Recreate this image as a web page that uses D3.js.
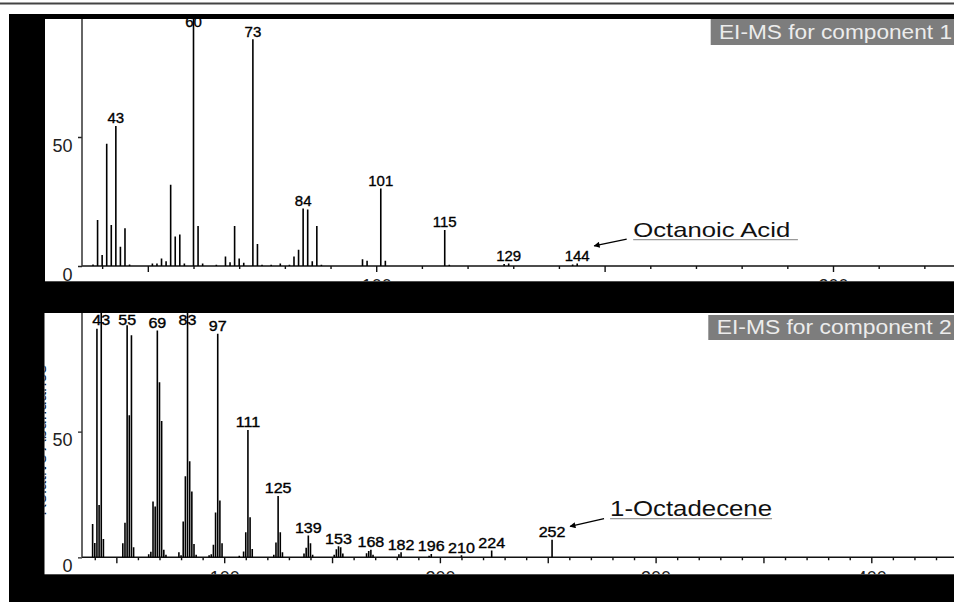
<!DOCTYPE html>
<html><head><meta charset="utf-8">
<script src="https://cdn.jsdelivr.net/npm/d3@7"></script>
<style>html,body{margin:0;padding:0;background:#fff;} svg{display:block;font-family:"Liberation Sans",Arial,sans-serif;}</style>
</head><body>
<svg id="c" width="954" height="602"></svg>
<script>
// ---------- data ----------
const topMz  = [38,39,40,41,42,43,44,45,46,51,52,53,54,55,56,57,58,60,61,62,65,67,68,69,70,71,73,74,75,77,79,81,82,83,84,85,86,87,88,97,98,101,102,115,116,128,129,143,144];
const topInt = [0.6,17.8,4.3,47.4,15.9,54.3,7.5,14.6,0.6,1,1,2.9,1.8,31.5,11.4,12.2,1,100,15.5,1,0.5,3.7,1.5,15.5,2.9,1.3,87.9,8.5,0.5,0.5,1,0.5,3.7,6.3,22.3,21.9,1.8,15.5,0.5,2.6,2,30,2,14,0.5,0.8,1,0.6,1];
const topLabels = [43,60,73,84,101,115,129,144];

const botMz  = [39,40,41,42,43,44,53,54,55,56,57,58,65,66,67,68,69,70,71,72,73,79,80,81,82,83,84,85,86,87,93,94,95,96,97,98,99,107,109,110,111,112,113,123,124,125,126,127,137,138,139,140,141,151,152,153,154,155,166,167,168,169,181,182,195,196,210,224,252];
const botInt = [13.3,5.7,91,20.8,100,7.3,5.6,13.8,92.4,56.5,88.4,4,1.2,2.2,22.2,20.2,90.3,69.7,54.3,3,1,2,0.8,14.3,32.3,99,38.2,26.2,5.3,1,0.8,1.2,5,17.8,89,22.6,5.6,0.6,2.3,10,50.7,15.9,3.3,1,5.9,24.4,10,2,1.5,3.8,8.7,5.6,1,1,3.2,4.4,4,1.5,1.6,2.5,3,1,1.2,2,0.6,1.3,0.8,2.7,7];
const botLabels = [43,55,69,83,97,111,125,139,153,168,182,196,210,224,252];

const yTickValues = [0,50];
const topXTickLabels = [100,200];
const botXTickLabels = [100,200,300,400];
const titles = ["EI-MS for component 1","EI-MS for component 2"];
const compounds = ["Octanoic Acid","1-Octadecene"];
const yTitle = "Relative Abundance";

// ---------- layout ----------
const svg = d3.select("#c");
svg.append("line").attr("x1",0).attr("x2",954).attr("y1",3.5).attr("y2",3.5)
   .attr("stroke","#444").attr("stroke-width",1.8);
svg.append("rect").attr("x",9).attr("y",14).attr("width",945).attr("height",588).attr("fill","#000");

const panels = [
  { mz: topMz, it: topInt, labels: topLabels, xLabels: topXTickLabels, title: titles[0], comp: compounds[0],
    box:{x:45,y:19,w:909,h:262.3}, xd:[60,200], xr:[193.5,833], base:266, yTop:8,
    labFont:15, labScale:1.0, labMin:26.5, tickMax:230,
    titleBox:{x:710.7,y:19,w:243.3,h:26, tx:719, ty:39, tl:233},
    ann:{ref:144, ax:17, ay:-15, sx:49.5, sy:-21.7, tx:56, ty:-24, tl:157, ulx:0, uly:-21.2, ulw:164.7, fs:21},
    showYTitle:false },
  { mz: botMz, it: botInt, labels: botLabels, xLabels: botXTickLabels, title: titles[1], comp: compounds[1],
    box:{x:44.5,y:313,w:909.5,h:261.3}, xd:[100,400], xr:[224.2,871.3], base:557.3, yTop:306.1,
    labFont:14, labScale:1.15, labMin:324.5, tickMax:440,
    titleBox:{x:708.3,y:315,w:245.7,h:25, tx:716.7, ty:333.5, tl:235},
    ann:{ref:252, ax:18, ay:-10.7, sx:52, sy:-18.4, tx:58, ty:-21.4, tl:162, ulx:0, uly:-18.4, ulw:162, fs:22},
    showYTitle:true }
];

const defs = svg.append("defs");
defs.append("marker").attr("id","arr").attr("viewBox","0 0 10 10").attr("refX",9).attr("refY",5)
  .attr("markerWidth",8).attr("markerHeight",6).attr("markerUnits","userSpaceOnUse").attr("orient","auto")
  .append("path").attr("d","M0,0 L10,5 L0,10 z").attr("fill","#000");

panels.forEach((p,i)=>{
  const cid = "clip"+i;
  defs.append("clipPath").attr("id",cid).append("rect")
    .attr("x",p.box.x).attr("y",p.box.y).attr("width",p.box.w).attr("height",p.box.h);
  svg.append("rect").attr("x",p.box.x).attr("y",p.box.y).attr("width",p.box.w).attr("height",p.box.h).attr("fill","#fff");
  const g = svg.append("g").attr("clip-path",`url(#${cid})`);

  const x = d3.scaleLinear().domain(p.xd).range(p.xr);
  const y = d3.scaleLinear().domain([0,100]).range([p.base,p.yTop]);
  const xLeft = 82, xRight = 954;

  // y axis title (almost entirely hidden behind the panel edge)
  if (p.showYTitle) {
    g.append("text").attr("transform",`translate(45.6,${(p.box.y+p.base)/2+5}) rotate(-90)`)
      .attr("text-anchor","middle").attr("font-size",17).attr("fill","#111").text(yTitle);
  }

  // x axis minor & major ticks
  const minor = d3.range(40, p.tickMax, 10).filter(v=>v%50!==0);
  const major = d3.range(50, p.tickMax, 50);
  g.append("g").attr("transform",`translate(0,${p.base})`)
    .call(d3.axisBottom(x).tickValues(minor).tickSize(3).tickFormat(""))
    .call(a=>{a.select(".domain").remove(); a.selectAll("line").attr("stroke","#111").attr("stroke-width",1.4);});
  g.append("g").attr("transform",`translate(0,${p.base})`)
    .call(d3.axisBottom(x).tickValues(major).tickSize(6).tickFormat(""))
    .call(a=>{a.select(".domain").remove(); a.selectAll("line").attr("stroke","#111").attr("stroke-width",1.4);});
  g.append("g").attr("transform",`translate(0,${p.base})`)
    .call(d3.axisBottom(x).tickValues(p.xLabels).tickSize(0).tickPadding(13.5).tickFormat(d3.format("d")))
    .call(a=>{a.select(".domain").remove(); a.selectAll("text").attr("font-size",18).attr("fill","#222")
      .attr("font-family","Liberation Sans, Arial, sans-serif");});

  // y axis
  g.append("g").attr("transform",`translate(${xLeft},0)`)
    .call(d3.axisLeft(y).tickValues(yTickValues).tickSize(4).tickPadding(5.5).tickFormat(d3.format("d")))
    .call(a=>{a.select(".domain").remove();
      a.selectAll("line").attr("stroke","#222").attr("stroke-width",1.3);
      a.selectAll("text").attr("font-size",18).attr("fill","#222").attr("dy","0.78em")
       .attr("font-family","Liberation Sans, Arial, sans-serif");});

  // axis lines
  g.append("line").attr("x1",xLeft).attr("x2",xRight).attr("y1",p.base).attr("y2",p.base)
    .attr("stroke","#111").attr("stroke-width",1.5);
  g.append("line").attr("x1",xLeft).attr("x2",xLeft).attr("y1",p.box.y).attr("y2",p.base)
    .attr("stroke","#333").attr("stroke-width",1.5);

  // peak labels
  const data = p.mz.map((m,k)=>({m, v:p.it[k]}));
  const byM = new Map(data.map(d=>[d.m,d.v]));
  g.selectAll("text.pl").data(p.labels).join("text").attr("class","pl")
    .attr("transform", m=>{
      const ty = Math.max(y(byM.get(m)) - 2.6, p.labMin);
      return `translate(${x(m)},${ty}) scale(${p.labScale},1)`;})
    .attr("text-anchor","middle").attr("font-size",p.labFont).attr("fill","#000")
    .attr("stroke","#000").attr("stroke-width",0.35).text(m=>m);

  // peaks
  g.selectAll("line.pk").data(data).join("line").attr("class","pk")
    .attr("x1",d=>x(d.m)).attr("x2",d=>x(d.m)).attr("y1",p.base).attr("y2",d=>y(d.v))
    .attr("stroke","#000").attr("stroke-width",1.6);

  // title box
  const tb = p.titleBox;
  svg.append("rect").attr("x",tb.x).attr("y",tb.y).attr("width",tb.w).attr("height",tb.h).attr("fill","#7d7d7d");
  svg.append("text").attr("x",tb.tx).attr("y",tb.ty).attr("font-size",19.5).attr("fill","#ececec")
    .attr("textLength",tb.tl).attr("lengthAdjust","spacingAndGlyphs").text(p.title);

  // compound annotation
  const a = p.ann, rx = x(a.ref), ry = Math.max(y(byM.get(a.ref)) - 2.6, p.labMin);
  svg.append("line").attr("x1",rx+a.sx).attr("y1",ry+a.sy).attr("x2",rx+a.ax).attr("y2",ry+a.ay)
    .attr("stroke","#000").attr("stroke-width",1.3).attr("marker-end","url(#arr)");
  svg.append("text").attr("x",rx+a.tx).attr("y",ry+a.ty).attr("font-size",a.fs).attr("fill","#111")
    .attr("textLength",a.tl).attr("lengthAdjust","spacingAndGlyphs").text(p.comp);
  svg.append("line").attr("x1",rx+a.tx+a.ulx).attr("x2",rx+a.tx+a.ulx+a.ulw).attr("y1",ry+a.uly).attr("y2",ry+a.uly)
    .attr("stroke","#999").attr("stroke-width",1.2);
});
</script>
</body></html>
